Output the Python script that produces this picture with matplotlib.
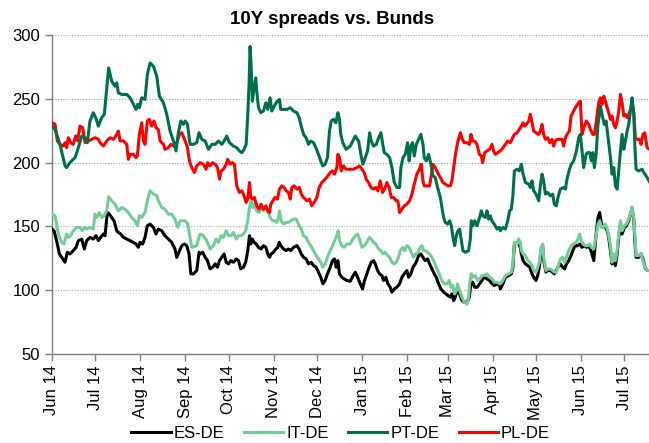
import matplotlib
matplotlib.use("Agg")
import matplotlib.pyplot as plt
import matplotlib.dates as mdates
import numpy as np
import pandas as pd

plt.rcParams['font.family'] = ['Liberation Sans', 'DejaVu Sans']

START = pd.Timestamp('2014-06-01')

# day offsets from 1 Jun 2014 and spread values (bp)
es_days = [0, 1.4, 3.2, 5.1, 6.7, 9.0, 10.6, 12.4, 14.7, 16.6, 18.2, 20.5, 22.3, 23.9, 26.2, 28.5, 30.4, 32.0, 33.6, 35.5, 36.6, 38.2, 39.6, 41.2, 42.8, 44.7, 45.8, 47.4, 49.3, 51.6, 53.9, 56.2, 58.0, 59.6, 60.8, 62.6, 64.2, 65.8, 67.7, 70.0, 71.8, 73.4, 75.7, 78.0, 80.3, 82.6, 84.9, 86.1, 88.0, 89.6, 91.4, 93.0, 94.6, 95.8, 97.6, 99.9, 101.5,
           102.2, 104.0, 105.7, 107.3, 109.1, 110.9, 112.6, 114.2, 115.6, 117.2, 118.8, 120.2, 121.8, 123.4, 125.2, 127.1, 128.7, 130.3, 132.1, 133.7, 135.1, 136.3, 137.2, 138.3, 139.5, 140.9, 142.5, 144.3, 145.9, 147.6, 148.9, 150.1, 151.2, 152.8, 154.5, 155.8, 156.8, 157.9, 159.8, 161.6, 163.2, 164.8, 166.7, 169.0, 170.6, 172.0, 173.6, 175.4, 177.0, 178.9, 180.5, 182.3, 183.9, 185.5, 186.9, 188.5, 190.1, 192.0, 193.6, 195.0, 196.1, 197.3, 198.4, 200.0, 201.6, 203.5,
           205.8, 207.6, 209.3, 210.9, 212.7, 214.3, 215.7, 217.3, 218.9, 220.3, 221.9, 223.1, 224.7, 226.1, 227.7, 228.8, 230.4, 231.8, 233.4, 234.6, 236.2, 238.0, 239.9, 241.5, 243.1, 244.9, 246.1, 247.7, 249.1, 250.7, 251.8, 253.0, 254.6, 256.0, 257.6, 259.2, 260.6, 262.2, 263.8, 265.2, 266.8, 268.4, 270.3, 271.9, 273.3, 274.9, 276.0, 277.2, 278.3, 279.5, 281.3, 282.9, 284.5, 286.4, 288.0, 289.1, 290.3, 291.7, 293.3, 295.1, 296.7, 298.3, 300.2, 302.0, 303.6, 305.2, 307.1, 308.9,
           309.4, 311.2, 312.9, 315.2, 317.0, 318.1, 319.1, 320.9, 322.1, 323.2, 323.9, 325.1, 326.7, 328.3, 329.7, 331.3, 332.4, 334.0, 335.2, 336.3, 337.5, 338.6, 339.3, 340.9, 342.1, 343.9, 345.5, 346.7, 348.1, 349.2, 350.8, 352.4, 353.8, 355.0, 356.6, 358.2, 359.4, 360.5, 361.7, 363.0, 364.2, 365.8, 367.4, 368.8, 370.4, 372.0, 373.9, 375.5, 376.8, 378.0, 379.2, 380.3, 381.9, 383.1, 384.2, 385.4, 386.5, 387.7, 388.8, 390.0, 391.1, 392.3, 393.4, 395.0, 396.4, 398.0, 399.2, 400.3, 401.5, 402.2, 403.1, 404.9, 406.5, 407.9, 409.5, 411.2, 412.3]
es_vals = [147.9, 146.6, 138.8, 128.4, 125.8, 121.9, 129.7, 128.4, 131, 133.6, 138.8, 140.1, 132.3, 138.8, 141.4, 140.1, 142.7, 138.8, 141.4, 144, 142.7, 160.9, 159.6, 157, 154.4, 146.6, 145.3, 144, 141.4, 140.1, 138.8, 137.5, 136.2, 133.6, 137.5, 136.2, 141.4, 150.5, 151.8, 149.2, 144, 147.9, 146.6, 142.7, 140.1, 137.5, 132.3, 125.8, 131, 134.9, 136.2, 134.9, 128.4, 112.8, 112.8, 115.4, 129.7,
           128.4, 129.7, 125.8, 123.2, 116.7, 118, 120.6, 118, 123.2, 125.8, 128.4, 121.9, 120.6, 123.2, 121.9, 124.5, 123.2, 116.7, 118, 121.9, 131, 142.7, 136.2, 140.1, 137.5, 136.2, 133.6, 132.3, 134.9, 133.6, 128.4, 125.8, 128.4, 129.7, 132.3, 133.6, 137.5, 134.9, 132.3, 131, 132.3, 131, 133.6, 134.9, 132.3, 128.4, 125.8, 124.5, 120.6, 121.9, 119.3, 118, 114.1, 110.2, 105, 107.6, 112.8, 118, 123.2, 124.5, 118, 123.2, 112.8, 110.2, 108.9, 107.6,
           107, 110.9, 114.1, 110.2, 105, 101, 107.6, 112.8, 118, 121.9, 123.2, 120.6, 115.4, 112.8, 111.5, 107.6, 110.2, 105, 102.3, 98.4, 101, 102.3, 105, 110.2, 112.8, 115.4, 110.2, 112.8, 118, 120.6, 123.2, 127.1, 128.4, 125.8, 123.2, 124.5, 120.6, 116.7, 112.8, 110.2, 105, 101, 98.4, 97.1, 95.8, 94.5, 97.1, 91.9, 94.5, 99.7, 97.1, 91.9, 90.6, 90.6, 94.5, 105, 106.3, 102.3, 102.3, 105, 107.6, 110.2, 108.9, 107.6, 105, 103.6, 105, 103.6,
           101, 105, 110.2, 111.5, 112.8, 118, 136.2, 137.5, 136.2, 133.6, 128.4, 123.2, 120.6, 119.3, 118, 112.8, 110.2, 107.6, 111.5, 118, 131, 134.9, 123.2, 114.1, 115.4, 115.4, 114.1, 112.8, 115.4, 118, 120.6, 118, 116.7, 120.6, 123.2, 127.1, 131, 133.6, 134.9, 134.9, 136.2, 133.6, 134.9, 133.6, 134.9, 131, 123.2, 144, 157, 160.9, 151.8, 150.5, 149.2, 146.6, 141.4, 131, 120.6, 125.8, 119.3, 128.4, 141.4, 151.8, 144, 149.2, 150.5, 154.4, 159.6, 163.5, 155.7, 138.8, 125.8, 125.8, 128.4, 124.5, 116.7, 115.4, 115.4]

it_days = [0, 2.1, 4.4, 6.7, 8.3, 10.1, 11.3, 12.9, 14.7, 17.0, 19.3, 20.9, 22.3, 23.9, 26.2, 28.5, 29.7, 30.8, 32.7, 34.3, 35.9, 37.8, 39.1, 41.2, 43.5, 44.7, 45.8, 48.1, 50.4, 52.7, 55.0, 57.3, 59.0, 60.3, 61.9, 64.2, 65.8, 67.7, 70.0, 72.3, 73.4, 75.7, 78.0, 80.3, 82.6, 84.9, 86.8, 88.4, 91.9, 93.7, 94.8, 96.5, 99.9, 101.7,
           102.2, 104.5, 106.8, 109.1, 111.4, 113.2, 114.9, 116.7, 118.3, 120.2, 121.8, 123.6, 125.2, 127.1, 128.7, 130.5, 132.1, 133.7, 135.1, 136.3, 137.4, 138.6, 139.7, 141.3, 142.9, 144.3, 145.9, 147.1, 148.9, 150.5, 152.4, 154.0, 155.1, 156.3, 157.0, 158.1, 159.8, 161.6, 163.2, 164.8, 166.7, 168.5, 170.1, 172.0, 173.6, 175.4, 177.0, 178.6, 180.5, 182.3, 183.9, 185.5, 186.9, 188.5, 190.1, 192.0, 193.6, 195.0, 196.6, 197.5, 198.4, 200.0, 201.6, 203.5,
           205.8, 207.6, 209.3, 210.9, 212.2, 213.9, 215.5, 217.3, 218.9, 220.3, 221.9, 223.5, 225.4, 227.0, 228.4, 230.0, 231.6, 233.0, 234.6, 236.2, 237.6, 239.2, 240.3, 242.0, 243.3, 244.9, 246.5, 248.4, 249.5, 251.1, 252.5, 254.1, 255.3, 256.4, 257.6, 259.2, 260.6, 262.2, 263.8, 265.2, 266.8, 268.0, 269.6, 271.0, 272.6, 274.2, 275.3, 276.7, 277.9, 279.0, 279.9, 281.3, 282.9, 284.5, 286.4, 287.5, 288.2, 289.4, 290.5, 292.1, 293.7, 295.1, 296.7, 298.3, 300.2, 302.0, 303.6, 305.2, 307.1, 308.9,
           309.4, 311.2, 312.9, 315.2, 317.0, 318.1, 319.1, 320.9, 322.1, 323.2, 323.9, 325.1, 326.7, 328.3, 329.7, 331.3, 332.4, 334.0, 335.2, 336.3, 337.5, 338.6, 339.3, 340.9, 342.1, 343.9, 345.5, 346.7, 348.1, 349.2, 350.8, 352.4, 353.8, 355.0, 356.6, 358.2, 360.0, 361.7, 363.0, 364.2, 365.3, 366.5, 368.1, 369.7, 371.1, 372.2, 373.9, 375.5, 376.8, 378.0, 379.2, 380.3, 381.9, 383.1, 384.2, 385.4, 386.5, 387.7, 388.8, 390.0, 391.1, 392.3, 393.4, 395.0, 396.4, 398.0, 399.2, 400.3, 401.5, 402.2, 403.1, 404.9, 406.5, 407.9, 409.5, 411.2, 412.3]
it_vals = [159.6, 158.3, 144, 137.5, 136.2, 144, 141.4, 142.7, 146.6, 149.2, 149.2, 146.6, 149.2, 147.9, 149.2, 147.9, 159.6, 157, 160.9, 157, 158.3, 162.2, 173.2, 170.1, 167.4, 164.8, 162.2, 164.8, 163.5, 160.9, 157, 154.4, 150.5, 158.3, 157, 160.9, 170.1, 177.9, 175.3, 174, 170.1, 164.8, 163.5, 159.6, 159.6, 155.7, 149.2, 154.4, 154.4, 151.8, 144, 133.6, 134.9, 142.7,
           144, 142.7, 138.8, 132.3, 134.9, 140.1, 137.5, 142.7, 141.4, 146.6, 142.7, 142.7, 145.3, 140.1, 142.7, 142.7, 144, 146.6, 154.4, 164.8, 170, 164.8, 167.4, 162.2, 160.9, 164.8, 162.2, 164.8, 162.2, 157, 154.4, 154.4, 153.1, 157, 162.2, 154.4, 151.8, 153.1, 153.1, 154.4, 155.7, 155.7, 151.8, 147.9, 142.7, 141.4, 137.5, 134.9, 131, 127.1, 124.5, 121.9, 118, 120.6, 125.8, 131, 134.9, 138.8, 142.7, 146.6, 138.8, 134.9, 133.6, 136.2,
           136.2, 140.1, 142.7, 144, 140.1, 133.6, 134.9, 137.5, 141.4, 140.1, 137.5, 136.2, 132.3, 131, 128.4, 129.7, 127.1, 125.8, 121.9, 120.6, 121.9, 125.8, 131, 133.6, 131, 134.9, 133.6, 128.4, 125.8, 128.4, 129.7, 133.6, 134.9, 131, 131, 129.7, 128.4, 125.8, 121.9, 118, 114.1, 110.2, 106.3, 105, 105, 107.6, 102.3, 103.6, 97.1, 99.7, 105, 99.7, 94.5, 90.6, 89, 94.5, 105, 112.8, 110.2, 111.5, 107.6, 108.9, 111.5, 111.5, 112.8, 110.2, 108.9, 106.3, 106.3, 105,
           105, 107.6, 111.5, 112.8, 114.1, 120.6, 137.5, 136.2, 140.1, 137.5, 131, 128.4, 127.1, 123.2, 121.9, 119.3, 115.4, 114.1, 118, 121.9, 133.6, 136.2, 125.8, 115.4, 116.7, 116.7, 115.4, 114.1, 114.1, 118, 124.5, 125.8, 121.9, 125.8, 131, 134.9, 136.2, 137.5, 140.1, 144, 138.8, 136.2, 134.9, 134.9, 136.2, 133.6, 132.3, 142.7, 151.8, 154.4, 149.2, 149.2, 151.8, 147.9, 142.7, 134.9, 121.9, 128.4, 123.2, 131, 144, 154.4, 146.6, 150.5, 151.8, 155.7, 159.6, 165.4, 157, 144, 127.1, 127.1, 128.4, 123.2, 116.7, 115.4, 115.4]

pt_days = [0, 2.1, 5.5, 9.0, 10.1, 12.4, 15.9, 18.2, 20.5, 22.8, 24.4, 26.2, 28.5, 30.2, 32.0, 34.3, 36.1, 37.8, 39.1, 41.2, 43.5, 44.7, 45.8, 48.1, 51.6, 53.9, 56.2, 58.0, 59.2, 60.3, 61.9, 64.2, 65.8, 67.7, 70.0, 72.3, 74.1, 76.9, 79.2, 81.5, 83.8, 85.6, 87.2, 88.9, 90.7, 91.9, 93.5, 95.3, 97.6, 99.9, 101.5,
           103.4, 105.7, 108.0, 110.3, 112.6, 114.9, 117.2, 118.8, 120.6, 122.5, 125.2, 127.5, 129.4, 131.0, 132.6, 134.0, 135.1, 136.0, 136.7, 137.4, 138.3, 139.5, 140.6, 141.3, 142.5, 144.1, 145.9, 147.6, 148.9, 150.5, 151.7, 153.3, 155.6, 157.0, 157.9, 159.8, 162.1, 164.4, 166.7, 169.0, 170.6, 172.0, 173.6, 175.4, 177.0, 178.6, 180.5, 182.1, 183.9, 185.5, 186.9, 188.5, 190.1, 191.5, 192.7, 194.3, 195.9, 197.3, 198.4, 199.3, 200.7, 203.0,
           205.8, 207.6, 209.3, 211.6, 213.2, 214.5, 216.2, 217.8, 219.2, 220.3, 221.9, 223.8, 225.4, 227.0, 228.1, 229.3, 231.1, 233.0, 234.6, 236.2, 238.0, 239.9, 240.8, 242.2, 243.8, 245.4, 246.5, 247.7, 248.8, 250.0, 251.4, 253.0, 254.6, 256.0, 256.9, 258.3, 259.9, 261.5, 262.9, 264.5, 266.1, 268.0, 269.1, 270.3, 271.4, 273.0, 274.4, 275.6, 276.7, 277.9, 279.0, 280.2, 281.3, 282.5, 283.6, 285.2, 287.5, 288.7, 289.4, 290.5, 291.7, 293.3, 295.1, 296.3, 297.4, 299.0, 300.2, 301.3, 302.5, 303.6, 305.2, 307.1, 308.7,
           309.4, 311.2, 312.9, 314.5, 315.8, 317.0, 318.1, 319.1, 320.9, 322.5, 323.9, 325.1, 326.7, 329.0, 330.1, 331.3, 332.4, 334.0, 335.9, 337.0, 338.2, 339.3, 340.5, 342.1, 343.9, 345.5, 346.7, 348.1, 349.2, 350.8, 353.1, 354.3, 355.4, 357.1, 358.4, 360.0, 361.9, 363.5, 364.6, 365.8, 366.9, 368.6, 369.7, 371.1, 372.2, 373.2, 374.3, 375.5, 376.8, 378.5, 379.8, 381.2, 382.4, 383.5, 385.4, 386.5, 387.7, 388.8, 390.0, 391.1, 392.3, 393.4, 394.6, 395.7, 396.9, 398.0, 399.2, 400.3, 401.5, 402.2, 403.1, 404.9, 407.2, 408.4, 410.0, 412.3]
pt_vals = [228.6, 226, 214.3, 197.4, 196.1, 200, 203.9, 211.7, 220.8, 219.5, 215.6, 232.6, 239.1, 235.2, 228.6, 235.2, 237.8, 258.6, 274.2, 263.8, 259.9, 262.5, 254.7, 253.4, 253.4, 250.8, 245.6, 241.7, 245.6, 243, 250.8, 249.5, 269, 278.1, 275.5, 267.7, 252.1, 246.9, 237.8, 224.7, 216.9, 209.1, 223.4, 232.6, 230, 232.6, 230, 214.3, 214.3, 215.6, 223.4,
           218.2, 216.9, 210.4, 214.3, 214.3, 216.9, 214.3, 216.9, 220.8, 215.6, 213, 211.7, 209.1, 207.8, 210.4, 214.3, 237.8, 261.2, 291, 276.8, 248.2, 258.6, 266.4, 256, 243, 239.1, 240.4, 246.9, 241.7, 250.8, 240.4, 244.3, 248.2, 249.5, 241.7, 241.7, 241.7, 243, 240.4, 239.1, 235.2, 228.6, 222.1, 219.5, 214.3, 216.9, 215.6, 211.7, 206.5, 201.3, 197.4, 198.7, 203.9, 224.7, 232.6, 233.9, 231.2, 239.1, 233.9, 222.1, 215.6, 210.4,
           213, 216.9, 220.8, 216.9, 206.5, 198.7, 203.9, 209.1, 223.4, 216.9, 213, 214.3, 219.5, 223.4, 215.6, 207.8, 206.5, 203.9, 196.1, 184.4, 180.5, 180.5, 196.1, 203.9, 206.5, 215.6, 201.3, 213, 215.6, 205.2, 214.3, 218.2, 222.1, 214.3, 203.9, 201.3, 206.5, 198.7, 189.6, 188.3, 180.5, 172.7, 164.8, 157, 153.1, 151.8, 154.4, 150.5, 141.4, 134.9, 142.7, 146.6, 147.9, 138.8, 131, 129.7, 131, 140.1, 154.4, 150.5, 154.4, 150.5, 157, 162.2, 158.3, 157, 162.2, 155.7, 158.3, 154.4, 151.8, 147.9, 149.2,
           146.6, 149.2, 147.9, 154.4, 162.2, 163.5, 174.3, 193.5, 194.8, 193.5, 198.7, 190.9, 184.4, 183.1, 180.5, 185.7, 177.9, 175.3, 170.1, 181.8, 190.9, 185.7, 175.3, 176.6, 174, 175.3, 167.4, 166.1, 172.7, 179.2, 180.5, 179.2, 187, 194.8, 198.7, 201.3, 209.1, 219.5, 222.1, 209.1, 196.1, 206.5, 207.8, 207.8, 201.3, 207.8, 196.1, 206.5, 229.9, 244.3, 236.5, 229.9, 232.6, 222.1, 203.9, 190.9, 196.1, 181.8, 179.2, 193.5, 209.1, 222.1, 210.4, 216.9, 224.7, 229.9, 240.4, 250.8, 237.8, 214.3, 194.8, 193.5, 194.8, 192.2, 189.6, 185]

pl_days = [0, 2.1, 3.7, 5.5, 7.8, 9.0, 10.1, 11.3, 12.9, 14.7, 16.3, 17.7, 19.3, 21.2, 22.8, 25.1, 27.4, 29.7, 32.0, 33.2, 35.5, 37.8, 40.1, 42.4, 44.7, 45.8, 47.0, 49.3, 51.6, 52.7, 53.9, 56.2, 58.0, 58.9, 60.3, 61.9, 63.1, 64.2, 65.8, 67.2, 68.8, 70.4, 71.8, 73.4, 74.6, 76.9, 78.0, 80.3, 82.0, 83.8, 86.1, 88.0, 89.6, 91.9, 93.5, 94.8, 96.5, 98.3, 99.9,
           102.2, 104.5, 106.3, 107.5, 109.1, 110.7, 112.6, 114.2, 115.6, 116.7, 118.3, 120.2, 121.3, 122.9, 124.5, 125.9, 127.5, 129.4, 131.0, 132.6, 134.0, 135.1, 136.3, 137.2, 138.6, 139.7, 141.3, 142.9, 144.3, 145.9, 147.6, 148.9, 150.1, 151.0, 152.4, 154.0, 155.6, 157.0, 158.6, 160.2, 161.6, 163.2, 164.4, 165.5, 167.1, 169.0, 170.8, 172.0, 173.6, 175.9, 177.7, 179.3, 180.9, 182.8, 184.4, 186.2, 188.5, 190.4, 192.0, 193.6, 195.0, 196.6, 197.3, 198.4, 199.6, 201.2, 203.0,
           205.8, 208.1, 210.4, 212.2, 213.9, 215.5, 216.8, 218.5, 220.1, 221.9, 223.5, 224.9, 226.5, 228.1, 229.5, 231.1, 232.7, 234.1, 235.7, 237.6, 238.7, 239.9, 241.5, 243.1, 244.9, 246.8, 248.4, 250.0, 251.8, 253.5, 254.8, 256.0, 256.9, 258.7, 260.6, 261.7, 262.9, 264.5, 266.1, 268.0, 269.8, 271.4, 273.3, 274.9, 276.0, 277.2, 278.8, 280.2, 281.8, 283.2, 284.5, 286.4, 288.2, 289.1, 290.3, 291.7, 293.3, 294.9, 296.3, 297.2, 298.6, 300.2, 302.0, 303.6, 304.8, 305.9, 307.5,
           309.4, 311.2, 312.9, 314.5, 316.3, 317.9, 319.1, 320.9, 322.5, 323.9, 325.1, 326.2, 327.4, 329.0, 330.1, 331.3, 332.4, 334.0, 335.9, 337.0, 338.2, 339.3, 340.5, 342.1, 343.5, 345.1, 346.2, 347.4, 348.5, 350.4, 352.0, 353.1, 354.3, 355.4, 357.1, 358.2, 359.4, 360.5, 361.9, 363.5, 364.6, 365.8, 367.4, 368.8, 370.4, 371.6, 373.2, 374.3, 375.5, 377.3, 378.5, 379.6, 380.8, 381.9, 383.1, 384.2, 385.4, 386.5, 387.7, 388.8, 390.0, 391.1, 392.3, 393.4, 394.6, 395.7, 396.9, 398.0, 399.2, 400.3, 401.5, 402.6, 403.8, 405.4, 406.5, 407.9, 409.1, 410.7, 412.3]
pl_vals = [231.2, 230, 217, 214.3, 213, 215.6, 211.7, 219.5, 215.6, 214.3, 220.8, 217, 228.6, 227.3, 215.6, 217, 218.2, 219.5, 218.2, 215.6, 213, 217, 219.5, 218.2, 222.1, 224.7, 217, 217, 214.3, 202.6, 206.5, 206.5, 203.9, 205.2, 222.1, 231.2, 217, 214.3, 232.6, 233.9, 228.6, 232.6, 227.3, 226, 217, 214.3, 210.4, 211.7, 214.3, 213, 215.6, 222.1, 223.4, 217, 211.7, 201.3, 196.1, 192.2, 197.4,
           200, 198.7, 194.8, 200, 197.4, 200, 198.7, 196.1, 187, 193.5, 194.8, 198.7, 202.6, 198.7, 200, 198.7, 181.8, 176.6, 177.9, 174, 168.8, 171.4, 184.4, 172.7, 171.4, 172.7, 166.1, 163.5, 167.4, 163.5, 166.1, 162.2, 160.9, 167.4, 170.1, 172.7, 171.4, 179.2, 181.8, 180.5, 177.9, 176.6, 171.4, 180.5, 181.8, 179.2, 180.5, 175.3, 172.7, 170.1, 171.4, 166.1, 168.8, 172.7, 180.5, 184.4, 187, 189.6, 192.2, 193.5, 190.9, 196.1, 206.5, 203.9, 193.5, 197.4, 194.8,
           194.8, 194.8, 196.1, 197.4, 194.8, 192.2, 187, 184.4, 180.5, 179.2, 180.5, 177.9, 185.7, 176.6, 179.2, 184.4, 180.5, 172.7, 172.7, 170.1, 170.1, 160.9, 163.5, 166.1, 167.4, 170.1, 175.3, 183.1, 190.9, 194.8, 198.7, 185.7, 181.8, 181.8, 181.8, 189.6, 198.7, 196.1, 192.2, 188.3, 184.4, 183.1, 181.8, 181.8, 185.7, 196.1, 209.1, 216.9, 223.4, 218.2, 215.6, 215.6, 214.3, 222.1, 216.9, 216.9, 214.3, 206.5, 205.2, 200, 207.8, 209.1, 210.4, 214.3, 209.1, 206.5, 207.8,
           209.1, 211.7, 214.3, 216.9, 215.6, 219.5, 222.1, 223.4, 226, 228.6, 231.2, 228.6, 229.9, 232.6, 237.8, 231.2, 224.7, 223.4, 222.1, 224.7, 229.9, 222.1, 218.2, 219.5, 215.6, 218.2, 213, 216.9, 218.2, 218.2, 218.2, 213, 219.5, 222.1, 224.7, 236.5, 239.1, 241.7, 244.3, 246.9, 248.2, 222.1, 228.6, 232.6, 229.9, 226, 222.1, 222.1, 231.2, 246.9, 250.8, 245.6, 252.1, 248.2, 243, 239.1, 233.9, 236.5, 229.9, 227.3, 232.6, 240.4, 253.4, 246.9, 236.5, 237.8, 235.2, 237.8, 241.7, 246.9, 239.1, 219.5, 218.2, 218.2, 214.3, 222.1, 223.4, 211.7, 210.4]

series_labels = ['ES-DE', 'IT-DE', 'PT-DE', 'PL-DE']
series_colors = ['#000000', '#74CD98', '#00704A', '#FF0000']
title = '10Y spreads vs. Bunds'


def to_dates(days):
    return START + pd.to_timedelta(np.asarray(days, dtype=float), unit='D')


fig = plt.figure(figsize=(6.49, 4.43), dpi=100)
ax = fig.add_axes([0.0801, 0.2009, 0.9199, 0.7201])

lw = 2.2
h_es, = ax.plot(to_dates(es_days), es_vals, color=series_colors[0], lw=lw, zorder=3)
h_it, = ax.plot(to_dates(it_days), it_vals, color=series_colors[1], lw=lw, zorder=4)
h_pl, = ax.plot(to_dates(pl_days), pl_vals, color=series_colors[3], lw=lw, zorder=5)
h_pt, = ax.plot(to_dates(pt_days), pt_vals, color=series_colors[2], lw=lw, zorder=6)

ax.set_ylim(50, 300)
ax.set_yticks(np.arange(50, 301, 50))
ax.set_xlim(START, pd.Timestamp('2015-07-18'))
ax.xaxis.set_major_locator(mdates.MonthLocator())
ax.xaxis.set_major_formatter(mdates.DateFormatter('%b %y'))
for lab in ax.get_xticklabels():
    lab.set_rotation(90)

for y in [100, 150, 200, 250, 300]:
    ax.axhline(y, color='#A6A6A6', lw=0.8, ls=(0, (1, 1.5)), zorder=1)

for s in ['top', 'right']:
    ax.spines[s].set_visible(False)
for s in ['left', 'bottom']:
    ax.spines[s].set_color('#808080')
    ax.spines[s].set_linewidth(1.0)
ax.tick_params(axis='both', colors='#808080', labelcolor='black', labelsize=12,
               direction='out', length=5, width=1.0)
ax.tick_params(axis='x', pad=3)

fig.text(0.512, 0.955, title, ha='center', va='center', fontsize=13.5, fontweight='bold')

fig.legend([h_es, h_it, h_pt, h_pl], series_labels, loc='center', bbox_to_anchor=(0.525, 0.021),
           ncol=4, frameon=False, fontsize=12, handlelength=2.35, handletextpad=0.2,
           columnspacing=1.15, borderaxespad=0)

fig.savefig('out.png', dpi=100)
